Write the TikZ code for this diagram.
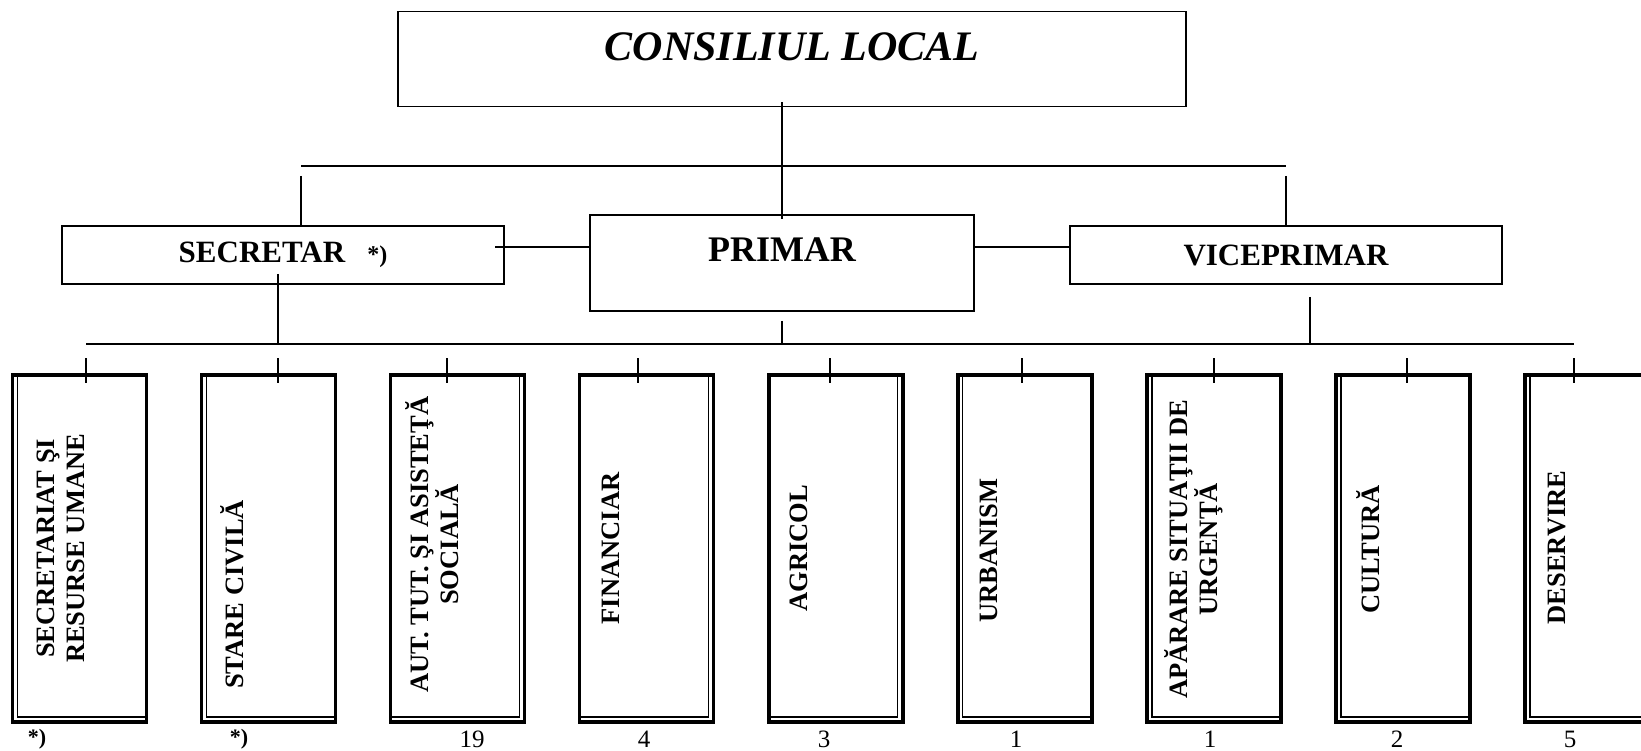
\documentclass[tikz,border=0pt]{standalone}
\usepackage{fontspec}
\setmainfont{Liberation Serif}
\usetikzlibrary{calc,positioning}

\tikzset{
  topbox/.style={draw, line width=1.6pt, inner sep=0pt, outer sep=0pt, font=\bfseries\fontsize{31}{36}\selectfont},
  dept/.style={draw, line width=3.4pt, inner sep=0pt, outer sep=0pt, minimum width=134pt, minimum height=347pt},
  depttext/.style={rotate=90, align=center, inner sep=0pt, font=\bfseries\fontsize{26.5}{30}\selectfont},
  cnt/.style={inner sep=0pt, font=\fontsize{25}{28}\selectfont},
  conn/.style={line width=1.6pt},
}

\begin{document}
\begin{tikzpicture}[x=1pt,y=-1pt]
\useasboundingbox (0,0) rectangle (1641,751);

% conducere
\node[topbox, minimum width=788pt, minimum height=95pt, font=\bfseries\itshape\fontsize{42}{48}\selectfont, text height=28pt, text depth=24pt] (consiliu) at (792,59) {CONSILIUL LOCAL};
\node[topbox, minimum width=384pt, minimum height=96pt, font=\bfseries\fontsize{36}{40}\selectfont, text height=24pt, text depth=27pt] (primar) at (782,263) {PRIMAR};
\node[topbox, minimum width=442pt, minimum height=58pt] (secretar) at (283,255) {SECRETAR\hspace{22pt}{\fontsize{24}{28}\selectfont *)}};
\node[topbox, minimum width=432pt, minimum height=58pt] (viceprimar) at (1286,255) {VICEPRIMAR};

\coordinate (barL) at (301,166);
\coordinate (barR) at (1286,166);
\coordinate (dropL) at (301,176);
\coordinate (dropR) at (1286,176);
\draw[conn] (barL) -- (barR);
\draw[conn] ($(primar.north |- consiliu.south)+(0,-4)$) -- ($(primar.north)+(0,4)$);
\draw[conn] (dropL) -- (dropL |- secretar.north);
\draw[conn] (dropR) -- (dropR |- viceprimar.north);

\coordinate (sp) at (495,247);
\draw[conn] (sp) -- (sp -| primar.west);
\draw[conn] (primar.east |- sp) -- (viceprimar.west |- sp);

% compartimente
\coordinate (busL) at (86,344);
\coordinate (busR) at (1574,344);
\coordinate (sd) at (278,274);
\coordinate (vd) at (1310,297);
\draw[conn] (busL) -- (busR);
\draw[conn] (sd) -- (sd |- busL);
\draw[conn] ($(primar.south)+(0,10)$) -- (primar.south |- busL);
\draw[conn] (vd) -- (vd |- busL);

\foreach \i/\tx/\a/\b in {0/86/5/0, 1/278/5/0, 2/447/0/5, 3/638/0/5, 4/830/0/5, 5/1022/5/0, 6/1214/5/0, 7/1407/5/0, 8/1574/5/0}{
  \node[dept] (d\i) at ({79.6+189.05*\i},548.4) {};
  \draw[line width=1.2pt] ($(d\i.north west)+(\a,0)$) rectangle ($(d\i.south east)+(-\b,-5)$);
  \coordinate (t\i) at (\tx,358);
  \draw[conn] (t\i) -- ($(t\i |- d\i.north)+(0,8)$);
}

\node[depttext] (n0) at ($(d0.west)+(48,0)$) {SECRETARIAT ŞI\\RESURSE UMANE};
\node[depttext] (n1) at ($(d1.west)+(31,46)$) {STARE CIVILĂ};
\node[depttext] (n2) at ($(d2.west)+(41,-4)$) {AUT. TUT. ŞI ASISTEŢĂ\\SOCIALĂ};
\node[depttext] (n3) at ($(d3.west)+(31,0)$) {FINANCIAR};
\node[depttext] (n4) at ($(d4.west)+(30,0)$) {AGRICOL};
\node[depttext] (n5) at ($(d5.west)+(31,2)$) {URBANISM};
\node[depttext] (n6) at ($(d6.west)+(47,1)$) {APĂRARE SITUAŢII DE\\URGENŢĂ};
\node[depttext] (n7) at ($(d7.west)+(32,1)$) {CULTURĂ};
\node[depttext] (n8) at ($(d8.west)+(32,-1)$) {DESERVIRE};

% posturi
\node[cnt, font=\bfseries\fontsize{22}{26}\selectfont] (c0) at (37,739) {*)};
\node[cnt, font=\bfseries\fontsize{22}{26}\selectfont] (c1) at (239,739) {*)};
\node[cnt] (c2) at (472,739) {19};
\node[cnt] (c3) at (644,739) {4};
\node[cnt] (c4) at (824,739) {3};
\node[cnt] (c5) at (1016,739) {1};
\node[cnt] (c6) at (1210,739) {1};
\node[cnt] (c7) at (1397,739) {2};
\node[cnt] (c8) at (1570,739) {5};
\end{tikzpicture}
\end{document}
